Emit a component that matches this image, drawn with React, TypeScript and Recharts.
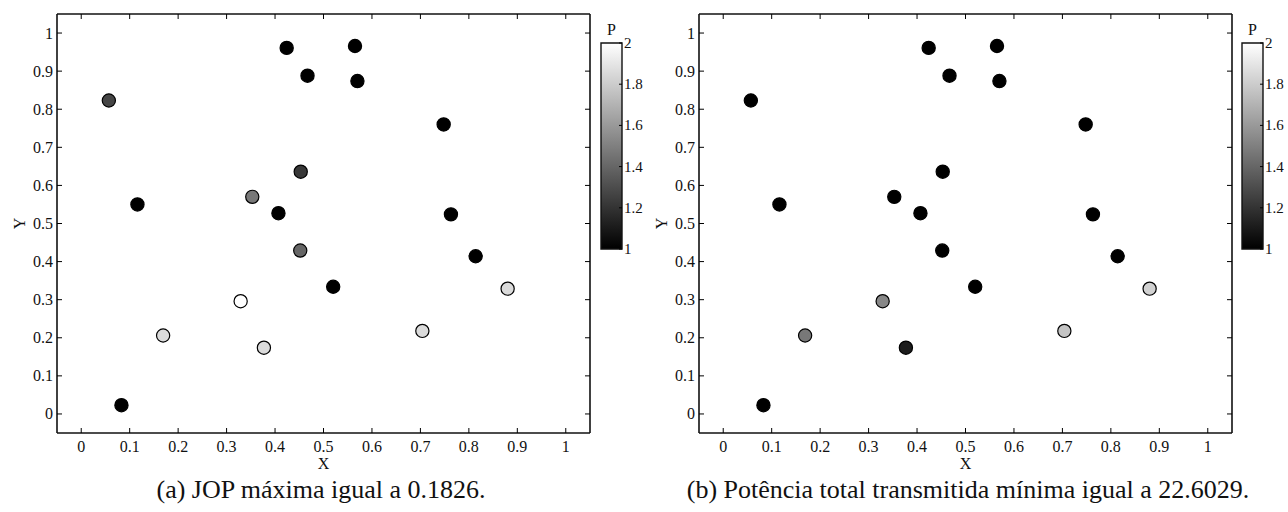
import React from 'react';
import { ScatterChart, Scatter, XAxis, YAxis, ReferenceArea } from 'recharts';

// ---- data ----
const xs = [0.057, 0.116, 0.424, 0.467, 0.453, 0.353, 0.407, 0.452, 0.329, 0.169, 0.377, 0.083, 0.520, 0.565, 0.570, 0.748, 0.763, 0.814, 0.880, 0.704];
const ys = [0.823, 0.550, 0.961, 0.888, 0.636, 0.570, 0.527, 0.429, 0.296, 0.206, 0.174, 0.023, 0.334, 0.966, 0.874, 0.760, 0.524, 0.414, 0.329, 0.218];
const pA = [1.27, 1, 1, 1, 1.22, 1.47, 1, 1.40, 2.0, 1.86, 1.86, 1, 1, 1, 1, 1, 1, 1, 1.86, 1.86];
const pB = [1, 1, 1, 1, 1, 1, 1, 1, 1.53, 1.47, 1.11, 1, 1, 1, 1, 1, 1, 1, 1.82, 1.77];
const axisTicks = [0, 0.1, 0.2, 0.3, 0.4, 0.5, 0.6, 0.7, 0.8, 0.9, 1];
const cbTicks = [1, 1.2, 1.4, 1.6, 1.8, 2];
const captionA = '(a) JOP máxima igual a 0.1826.';
const captionB = '(b) Potência total transmitida mínima igual a 22.6029.';
const xLabelText = 'X';
const yLabelText = 'Y';
const cbTitle = 'P';

const FONT = '"Liberation Serif", "Times New Roman", Times, serif';
const DOMAIN: [number, number] = [-0.05, 1.05];

const grayOf = (p: number) => {
  const g = Math.round(Math.max(0, Math.min(1, p - 1)) * 255);
  return `rgb(${g},${g},${g})`;
};

const Dot = (props: any) => {
  if (props.cx == null || props.cy == null) return <g />;
  return <circle cx={props.cx} cy={props.cy} r={6.6} fill={grayOf(props.payload.p)} stroke="#000" strokeWidth={1.2} />;
};

const BottomTick = (props: any) => {
  const { x, y, payload } = props;
  return (
    <g>
      <line x1={x} y1={y} x2={x} y2={y - 5} stroke="#000" strokeWidth={1} />
      <text x={x} y={y + 19} textAnchor="middle" fontFamily={FONT} fontSize={16} fill="#111">{String(payload.value)}</text>
    </g>
  );
};
const TopTick = (props: any) => {
  const { x, y } = props;
  return <line x1={x} y1={y} x2={x} y2={y + 5} stroke="#000" strokeWidth={1} />;
};
const LeftTick = (props: any) => {
  const { x, y, payload } = props;
  return (
    <g>
      <line x1={x} y1={y} x2={x + 5} y2={y} stroke="#000" strokeWidth={1} />
      <text x={x - 4} y={y + 5.5} textAnchor="end" fontFamily={FONT} fontSize={16} fill="#111">{String(payload.value)}</text>
    </g>
  );
};
const RightTick = (props: any) => {
  const { x, y } = props;
  return <line x1={x} y1={y} x2={x - 5} y2={y} stroke="#000" strokeWidth={1} />;
};
const CbTick = (props: any) => {
  const { x, y, payload } = props;
  return (
    <g>
      <line x1={x} y1={y} x2={x - 3} y2={y} stroke="#000" strokeWidth={1} />
      <text x={x + 2} y={y + 5} textAnchor="start" fontFamily={FONT} fontSize={15} fill="#111">{String(payload.value)}</text>
    </g>
  );
};

const XLabel = (props: any) => {
  const vb = props.viewBox;
  return <text x={vb.x + vb.width / 2} y={vb.y + 36} textAnchor="middle" fontFamily={FONT} fontSize={16} fill="#111">{xLabelText}</text>;
};
const YLabel = (props: any) => {
  const vb = props.viewBox;
  const cx = vb.x + vb.width - 32;
  const cy = vb.y + vb.height / 2;
  return <text x={cx} y={cy} transform={`rotate(-90 ${cx} ${cy})`} textAnchor="middle" fontFamily={FONT} fontSize={16} fill="#111">{yLabelText}</text>;
};
const CbTitle = (props: any) => {
  const vb = props.viewBox;
  return <text x={vb.x + vb.width / 2} y={vb.y - 8} textAnchor="middle" fontFamily={FONT} fontSize={16} fill="#111">{cbTitle}</text>;
};

const axisLine = { stroke: '#111', strokeWidth: 1.6 };

function Panel({ left, width, p }: { left: number; width: number; p: number[] }) {
  const data = xs.map((x, i) => ({ x, y: ys[i], p: p[i] }));
  return (
    <div style={{ position: 'absolute', left, top: 0 }}>
      <ScatterChart width={width} height={512} margin={{ top: 13, left: 56, right: width - 591, bottom: 78 }}>
        <XAxis type="number" dataKey="x" domain={DOMAIN} allowDataOverflow ticks={axisTicks} height={1}
          tickSize={0} tickMargin={0} tickLine={false} axisLine={axisLine} tick={<BottomTick />} interval={0}
          label={{ content: <XLabel /> } as any} />
        <XAxis xAxisId="top" orientation="top" type="number" dataKey="x" domain={DOMAIN} allowDataOverflow ticks={axisTicks} height={1}
          tickSize={0} tickMargin={0} tickLine={false} axisLine={axisLine} tick={<TopTick />} interval={0} />
        <YAxis type="number" dataKey="y" domain={DOMAIN} allowDataOverflow ticks={axisTicks} width={1}
          tickSize={0} tickMargin={0} tickLine={false} axisLine={axisLine} tick={<LeftTick />} interval={0}
          label={{ content: <YLabel /> } as any} />
        <YAxis yAxisId="right" orientation="right" type="number" dataKey="y" domain={DOMAIN} allowDataOverflow ticks={axisTicks} width={1}
          tickSize={0} tickMargin={0} tickLine={false} axisLine={axisLine} tick={<RightTick />} interval={0} />
        <Scatter data={data} isAnimationActive={false} shape={<Dot />} />
      </ScatterChart>
    </div>
  );
}

function ColorBar({ left, width, id }: { left: number; width: number; id: string }) {
  const cbData = cbTicks.map((v) => ({ x: 0.5, y: v }));
  return (
    <div style={{ position: 'absolute', left, top: 0 }}>
      <ScatterChart width={width} height={260} margin={{ top: 43, left: 11, right: width - 33, bottom: 11 }}>
        <defs>
          <linearGradient id={id} x1="0" y1="1" x2="0" y2="0">
            <stop offset="0" stopColor="#000" />
            <stop offset="1" stopColor="#fff" />
          </linearGradient>
        </defs>
        <XAxis type="number" dataKey="x" domain={[0, 1]} hide />
        <YAxis type="number" dataKey="y" orientation="right" domain={[1, 2]} ticks={cbTicks} width={1}
          tickSize={0} tickMargin={0} tickLine={false} axisLine={false} tick={<CbTick />} interval={0} />
        <ReferenceArea x1={0} x2={1} y1={1} y2={2} fill={`url(#${id})`} fillOpacity={1} stroke="#111" strokeWidth={1.4}
          label={{ content: <CbTitle /> } as any} />
        <Scatter data={cbData} isAnimationActive={false} shape={() => <g />} />
      </ScatterChart>
    </div>
  );
}

export default function App() {
  return (
    <div style={{ position: 'absolute', left: 0, top: 0, width: 1288, height: 512, background: '#fff' }}>
      <svg width={1288} height={512} style={{ position: 'absolute', left: 0, top: 0 }}>
        <text x={321} y={498} textAnchor="middle" fontFamily={FONT} fontSize={26} fill="#111">{captionA}</text>
        <text x={968} y={498} textAnchor="middle" fontFamily={FONT} fontSize={26} fill="#111">{captionB}</text>
      </svg>
      <Panel left={0} width={642} p={pA} />
      <ColorBar left={590} width={60} id="cbGradA" />
      <Panel left={642} width={646} p={pB} />
      <ColorBar left={1231} width={57} id="cbGradB" />
    </div>
  );
}
